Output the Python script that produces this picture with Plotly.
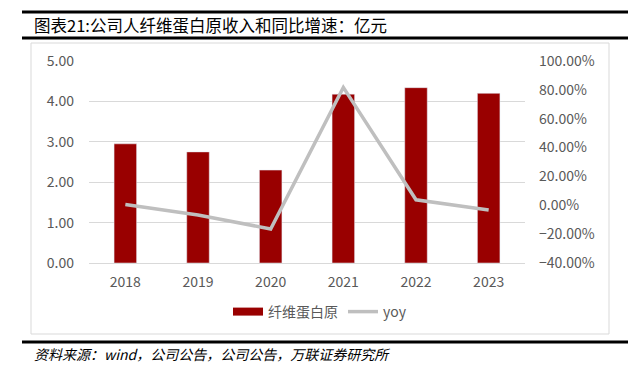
import plotly.graph_objects as go

years = ["2018", "2019", "2020", "2021", "2022", "2023"]
revenue = [2.95, 2.75, 2.30, 4.18, 4.34, 4.20]
yoy = [0.005, -0.068, -0.164, 0.817, 0.038, -0.032]

W, H = 628, 365
L, R, T, B = 89, 525, 61, 263  # plot area in px


def px_x(px):
    return (px - L) / (R - L)


def px_y(py):
    return (B - py) / (B - T)


FONT = "Noto Sans CJK SC, Noto Sans, sans-serif"
GRAY = "#595959"
RED = "#990000"

fig = go.Figure()
fig.add_trace(go.Bar(x=years, y=revenue, name="纤维蛋白原", marker_color=RED,
                     width=0.31, yaxis="y", showlegend=False))
# legend stand-in for the bar series (wide flat swatch as in the reference)
fig.add_trace(go.Scatter(x=[None], y=[None], name="纤维蛋白原", mode="lines",
                         line=dict(color=RED, width=8), yaxis="y"))
fig.add_trace(go.Scatter(x=years, y=yoy, name="yoy", mode="lines",
                         line=dict(color="#bfbfbf", width=3.5), yaxis="y2"))

fig.update_layout(
    width=W, height=H,
    margin=dict(l=L, r=W - R, t=T, b=H - B),
    paper_bgcolor="white", plot_bgcolor="white",
    font=dict(family=FONT, size=13, color=GRAY),
    showlegend=True,
    legend=dict(orientation="h", x=px_x(320), y=px_y(312), xanchor="center", yanchor="middle",
                font=dict(size=14, color=GRAY), traceorder="normal"),
    xaxis=dict(showgrid=False, showline=True, linecolor="#d9d9d9", linewidth=1,
               ticks="", tickfont=dict(size=14, color=GRAY), ticklabelstandoff=6),
    yaxis=dict(range=[0, 5], tickvals=[0, 1, 2, 3, 4, 5], tickformat=".2f",
               showgrid=True, gridcolor="#d9d9d9", gridwidth=1, zeroline=False,
               showline=False, ticks="", tickfont=dict(size=14, color=GRAY),
               ticklabelstandoff=14),
    yaxis2=dict(range=[-0.4, 1.0], tickvals=[-0.4, -0.2, 0, 0.2, 0.4, 0.6, 0.8, 1.0],
                tickformat=".2%", overlaying="y", side="right", showgrid=False,
                zeroline=False, showline=False, ticks="",
                tickfont=dict(size=14, color=GRAY), ticklabelstandoff=13),
    bargap=0.5,
)

shapes = [
    dict(type="rect", xref="paper", yref="paper", x0=px_x(31), x1=px_x(609),
         y0=px_y(334), y1=px_y(43), line=dict(color="#d9d9d9", width=1), layer="below"),
    dict(type="line", xref="paper", yref="paper", x0=px_x(22), x1=px_x(628),
         y0=px_y(12), y1=px_y(12), line=dict(color="black", width=3)),
    dict(type="line", xref="paper", yref="paper", x0=px_x(22), x1=px_x(628),
         y0=px_y(38), y1=px_y(38), line=dict(color="black", width=3)),
    dict(type="line", xref="paper", yref="paper", x0=px_x(22), x1=px_x(628),
         y0=px_y(342), y1=px_y(342), line=dict(color="black", width=3)),
]
fig.update_layout(shapes=shapes)

fig.add_annotation(text="图表21:公司人纤维蛋白原收入和同比增速：亿元", xref="paper", yref="paper",
                   x=px_x(32), y=px_y(25), xanchor="left", yanchor="middle", showarrow=False,
                   font=dict(family=FONT, size=16.5, color="black"))
fig.add_annotation(text="<i>资料来源：wind，公司公告，公司公告，万联证券研究所</i>", xref="paper", yref="paper",
                   x=px_x(32), y=px_y(354), xanchor="left", yanchor="middle", showarrow=False,
                   font=dict(family=FONT, size=14, color="black"))

fig.write_html("out.html", config={"displayModeBar": False},
               post_script="document.body.style.margin='0';document.body.style.overflow='hidden';")
